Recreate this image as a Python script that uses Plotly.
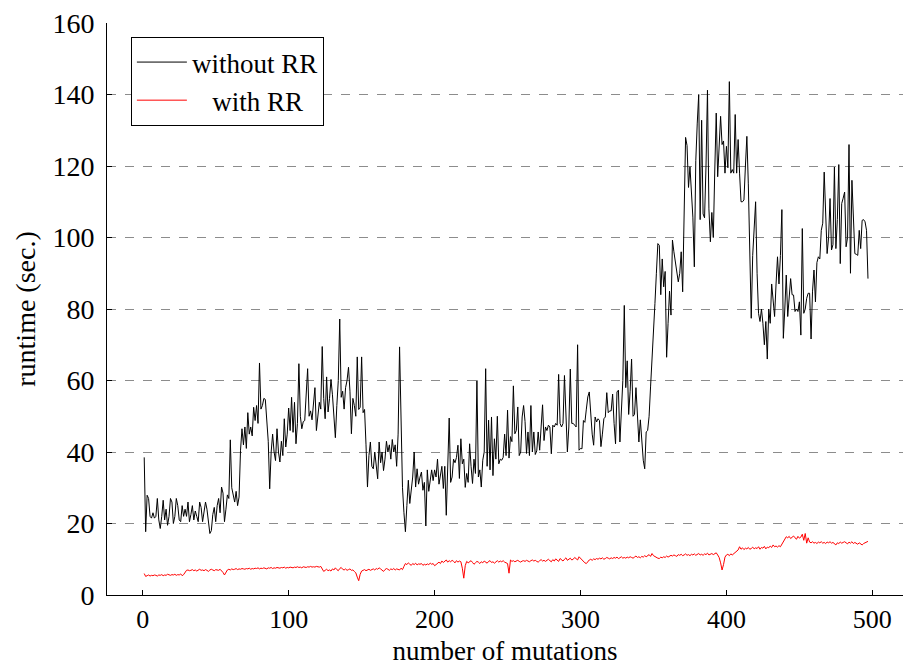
import plotly.graph_objects as go

mutations = list(range(1, 498))

without_rr = [
    38.5, 17.7, 27.9, 27, 22, 21.5, 23, 21.5, 22, 27,
    21, 18.6, 22, 26.5, 21, 24, 19.5, 22, 27, 26,
    20, 22, 27, 25, 21, 20.5, 25, 22, 24, 22,
    26, 20.5, 22.5, 25, 21, 23.5, 22, 20.5, 26, 24.5,
    20.5, 23, 26, 24, 21, 17.2, 18, 22.5, 24.5, 20.5,
    25, 27, 23, 30.2, 28.5, 20.5, 24, 28, 27, 43.4,
    30, 27.4, 26, 29, 25, 27.4, 40.5, 46.5, 42, 47,
    41, 51, 45, 47, 44.5, 52.5, 48.8, 53, 48, 64.9,
    52, 53, 55, 54.7, 50, 43, 29.7, 40, 45, 40,
    37.6, 46.5, 40, 37.2, 43, 39, 49.3, 41.4, 45, 52.3,
    46, 55.3, 45.5, 53.9, 42.3, 48, 64.7, 50, 46.5, 48.5,
    48.8, 55, 63.3, 50, 51.5, 49, 54.4, 58, 46, 50,
    53.9, 52, 69.5, 55, 49.3, 61, 51.2, 55, 60.3, 56,
    50, 44, 53, 60, 77.2, 55.3, 57, 52, 58, 60,
    63.7, 57, 45.1, 55, 53, 50, 66.6, 51.9, 52.5, 66.6,
    51, 51.9, 42, 30.2, 39, 42.8, 36, 35.3, 40, 36,
    32.5, 42.8, 37, 40, 34.8, 38, 43, 40, 42, 38,
    43.5, 40, 42, 36, 45, 69.4, 48, 30, 23, 17.7,
    25, 32.1, 25.6, 29.8, 33, 40, 30.2, 35.3, 31, 33,
    34.4, 29.3, 31.5, 19.3, 35, 29, 31.5, 35, 32, 35,
    33, 38, 31, 34, 36, 29.8, 36, 22.3, 35, 49.5,
    31.5, 33, 38, 37, 38.5, 41.9, 32.6, 43.7, 36.7, 38,
    30.1, 34, 31.5, 42.3, 36, 31.2, 38, 34, 60, 33,
    35, 30.2, 37.7, 40, 63.3, 36, 48.9, 35, 49.8, 33.4,
    43.7, 38, 50, 36.7, 38, 37.7, 38.5, 45, 39, 51.7,
    38.3, 44.3, 42.9, 58.5, 45.1, 46, 52.6, 39, 40, 49.8,
    53, 48.5, 39.6, 45.6, 39, 53, 40, 45.6, 39.3, 40.3,
    45.6, 40.5, 47, 53.2, 43.2, 47, 46, 47.5, 47, 39.5,
    47.5, 47, 48, 47.5, 61.7, 48, 47, 48, 61.4, 48,
    40, 47, 63.2, 48, 48, 47.5, 47, 70, 40.5, 41,
    40.9, 48.8, 48.3, 52, 55.4, 56.8, 49.8, 45, 41.9, 49.8,
    48.4, 49.3, 48.8, 41.5, 45, 49.3, 49.8, 56.6, 51, 51.5,
    51.5, 56.2, 48, 42.3, 56.8, 57.3, 42.8, 50, 60, 81,
    58, 65.5, 50.5, 57, 66, 50, 50.5, 58, 48, 42.8,
    49, 42.3, 37.7, 35.3, 45.6, 46, 50, 58.2, 65, 72,
    81.5, 90, 98.3, 97.8, 84, 94, 86.2, 90.5, 66.5, 76,
    85, 78.3, 99.3, 96, 93.2, 91, 87.6, 90, 96, 84.8,
    109.5, 128, 125.7, 114, 119.8, 112, 105.7, 91.8, 121.5, 132,
    140, 105, 132.8, 106.6, 105.5, 120, 141.2, 108, 98.8, 107,
    100, 118.6, 134.8, 117, 125, 133.9, 126, 127, 118, 125.5,
    119.5, 143.6, 118, 119, 118, 134.4, 118, 127.4, 118, 110,
    110, 110.5, 120, 128.3, 115, 95, 77.4, 95, 104, 110,
    90, 78.8, 76.5, 80, 76, 70, 76.5, 66, 80, 76,
    87, 81, 77.9, 87, 94.6, 87, 95, 107.8, 71.8, 80,
    89.5, 77.9, 85, 88.5, 84, 83.9, 79.3, 80, 79.3, 82,
    72.7, 102.5, 78.8, 80, 83, 84.4, 84.4, 71.6, 85, 90.9,
    82, 93, 94.6, 94, 102, 104, 118.3, 104, 95.5, 100,
    110.9, 96.5, 98, 119.7, 96.9, 105, 120.4, 92.7, 109.5, 111,
    112.7, 97.4, 100, 126, 90, 116, 105, 95.5, 95.3, 95,
    102, 96.9, 104.8, 105, 104.4, 102, 88.5,
]

with_rr = [
    6.0, 5.2, 5.4, 5.6, 5.3, 5.5, 5.4, 5.6, 5.5, 5.3,
    5.6, 5.5, 5.7, 5.4, 5.6, 5.5, 5.8, 5.6, 5.5, 5.7,
    5.6, 5.8, 5.5, 5.7, 5.6, 5.9, 5.4, 5.7, 6.5, 6.9,
    7.0, 6.8, 6.9, 7.1, 6.8, 7.0, 6.7, 7.0, 7.2, 6.9,
    7.0, 6.8, 7.1, 6.9, 6.6, 7.0, 7.2, 7.0, 6.8, 7.1,
    7.0, 6.9, 7.2, 6.8, 6.3, 5.6, 6.5, 7.0, 7.2, 7.0,
    7.3, 7.1, 7.2, 7.4, 7.1, 7.3, 7.2, 7.4, 7.3, 7.2,
    7.4, 7.3, 7.5, 7.2, 7.4, 7.3, 7.5, 7.4, 7.6, 7.3,
    7.5, 7.4, 7.6, 7.5, 7.3, 7.6, 7.5, 7.7, 7.4, 7.6,
    7.5, 7.7, 7.6, 7.5, 7.7, 7.6, 7.8, 7.5, 7.7, 7.6,
    7.8, 7.7, 7.6, 7.8, 7.7, 7.9, 7.7, 7.8, 7.6, 7.9,
    7.8, 7.7, 7.9, 7.8, 8.0, 7.8, 7.9, 7.8, 8.0, 7.9,
    7.8, 8.0, 7.4, 6.6, 6.9, 7.2, 6.8, 7.0, 6.7, 7.3,
    7.0, 7.6, 7.1, 6.8, 7.4, 7.7, 7.2, 7.0, 7.3, 6.9,
    7.1, 7.3, 6.9, 7.0, 6.6, 6.2, 5.0, 4.0, 5.8, 6.7,
    6.9, 7.1, 6.8, 7.0, 7.2, 6.9, 7.1, 7.3, 7.0, 7.4,
    7.2, 7.6, 7.3, 7.0, 6.6, 7.1, 7.4, 7.2, 6.9, 7.3,
    7.1, 7.4, 7.0, 7.3, 7.2, 7.0, 7.5, 7.1, 8.0, 8.8,
    8.5, 9.0, 8.6, 8.3, 8.8, 8.5, 8.9, 8.4, 8.7, 8.6,
    8.8, 8.3, 8.6, 8.4, 8.7, 8.5, 8.9, 8.6, 8.8, 8.2,
    8.5, 8.9, 9.2, 8.8, 9.5, 9.1, 9.4, 9.8, 9.2, 9.6,
    9.3, 9.7, 9.4, 9.0, 9.6, 9.2, 9.5, 9.3, 7.5, 4.7,
    8.2, 9.4, 9.0, 9.3, 9.6, 9.1, 8.6, 9.0, 9.4, 9.2,
    8.8, 9.3, 9.0, 9.5, 9.2, 8.9, 9.4, 9.6, 9.1, 9.3,
    8.9, 9.4, 9.6, 9.2, 9.5, 9.3, 9.6, 9.2, 9.0, 8.8,
    6.1, 9.8, 9.4, 9.6, 9.3, 9.5, 9.7, 9.4, 9.2, 9.5,
    9.6, 9.4, 9.7, 9.5, 9.3, 9.6, 9.8, 9.5, 9.7, 9.4,
    9.2, 9.6, 9.9, 9.5, 9.7, 9.4, 9.8, 10.0, 9.6, 9.3,
    9.9, 9.5, 10.1, 9.7, 9.4, 10.2, 9.8, 9.5, 10.0, 10.4,
    9.7, 10.1, 10.3, 9.8, 10.0, 10.5, 10.1, 9.8, 10.7, 10.2,
    9.8, 9.5, 9.0, 8.8, 9.4, 9.8, 10.0, 9.7, 10.1, 9.9,
    10.2, 10.0, 10.3, 10.1, 10.4, 10.0, 10.2, 10.5, 10.3, 10.1,
    10.4, 10.2, 10.5, 10.3, 10.6, 10.2, 10.4, 10.7, 10.3, 10.5,
    10.3, 10.6, 10.4, 10.7, 10.5, 10.3, 10.6, 10.9, 10.5, 10.7,
    10.4, 10.8, 10.6, 11.0, 10.7, 10.9, 11.3, 10.8, 11.6, 11.0,
    10.7, 10.5, 10.3, 10.2, 10.6, 10.4, 10.7, 10.5, 10.9, 10.6,
    10.8, 11.1, 10.9, 11.2, 11.0, 10.8, 11.3, 11.1, 11.4, 11.0,
    11.2, 11.5, 11.1, 11.3, 11.0, 11.4, 11.2, 11.5, 11.1, 11.3,
    11.6, 11.2, 11.4, 11.1, 11.5, 11.3, 11.7, 11.2, 11.4, 11.6,
    11.3, 11.5, 11.8, 11.2, 10.5, 9.0, 7.0, 8.5, 10.6, 11.2,
    11.4, 11.0, 11.5, 11.2, 11.6, 11.9, 12.2, 12.6, 13.5, 12.8,
    13.2, 12.7, 13.1, 12.9, 13.3, 12.8, 13.0, 13.4, 12.9, 13.2,
    13.0, 13.5, 12.8, 13.3, 13.1, 13.6, 12.9, 13.4, 13.2, 13.7,
    13.3, 14.0, 13.5, 13.7, 13.4, 13.8, 13.5, 14.2, 15.0, 15.9,
    16.3, 16.0, 16.4, 15.8, 16.2, 16.5, 16.0, 15.6, 16.4, 15.9,
    16.2, 17.0, 15.3, 17.2, 14.5, 16.0, 14.8, 14.6, 14.9, 14.5,
    14.7, 14.4, 14.8, 14.6, 14.9, 14.5, 14.7, 14.4, 14.8, 14.6,
    14.9, 14.5, 14.7, 14.2, 14.0, 14.6, 14.4, 14.8, 14.5, 14.7,
    14.9, 14.6, 14.3, 14.8, 14.5, 14.9, 14.4, 14.7, 14.5, 14.2,
    14.6, 14.3, 14.0, 14.4, 14.6, 14.9, 15.0,
]

x_ticks = [0, 100, 200, 300, 400, 500]
y_ticks = [0, 20, 40, 60, 80, 100, 120, 140, 160]

FONT = "Liberation Serif"
FS = 28

fig = go.Figure()
fig.add_trace(go.Scatter(x=mutations, y=without_rr, mode="lines", name="without RR",
                         line=dict(color="black", width=1)))
fig.add_trace(go.Scatter(x=mutations, y=with_rr, mode="lines",
                         name="\u00a0\u00a0\u00a0with RR",
                         line=dict(color="red", width=1)))

fig.update_layout(
    width=903, height=666,
    margin=dict(l=107, r=0, t=23, b=71),
    paper_bgcolor="white", plot_bgcolor="white",
    font=dict(family=FONT, size=FS, color="black"),
    showlegend=True,
    legend=dict(x=0.030, y=0.9755, xanchor="left", yanchor="top",
                bordercolor="black", borderwidth=1, bgcolor="white",
                font=dict(family=FONT, size=27), tracegroupgap=0,
                itemwidth=50),
    xaxis=dict(range=[-24.5, 521], tickvals=x_ticks, showgrid=False,
               showline=True, linecolor="black", linewidth=1,
               ticks="inside", ticklen=5, tickcolor="black", zeroline=False,
               ticklabelstandoff=1, tickfont=dict(size=26),
               title=dict(text="number of mutations", font=dict(size=27), standoff=8)),
    yaxis=dict(range=[0, 160], tickvals=y_ticks, showgrid=True,
               gridcolor="#8c8c8c", griddash="dash", gridwidth=1,
               showline=True, linecolor="black", linewidth=1,
               ticks="inside", ticklen=5, tickcolor="black", zeroline=False,
               ticklabelstandoff=6,
               title=dict(text="runtime (sec.)", font=dict(size=FS), standoff=8)),
)

fig.write_html("out.html", config={"displayModeBar": False},
               post_script="document.body.style.margin='0';")
